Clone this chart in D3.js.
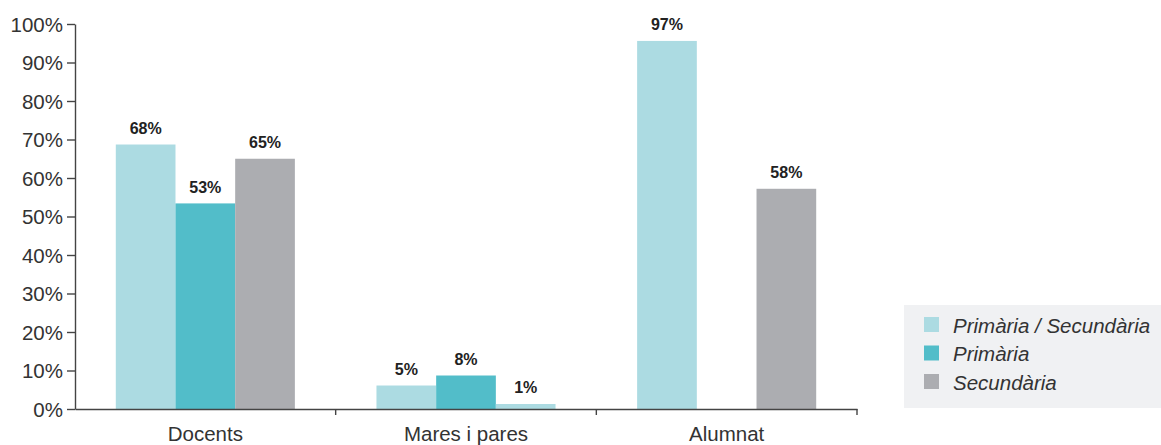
<!DOCTYPE html>
<html><head><meta charset="utf-8">
<script src="https://cdn.jsdelivr.net/npm/d3@7"></script>
<style>
html,body{margin:0;padding:0;background:#fff;}
svg{display:block;font-family:"Liberation Sans",Arial,Helvetica,sans-serif;}
</style></head>
<body>
<svg id="chart" width="1161" height="445"></svg>
<script>
const categories = ["Docents", "Mares i pares", "Alumnat"];
const seriesNames = ["Primària / Secundària", "Primària", "Secundària"];
const seriesColors = ["#acdbe2", "#52bdc9", "#acadb1"];
// bar heights (null = no bar)
const primSec   = [68.7, 6.1, 95.6];
const primaria  = [53.4, 8.7, null];
const secundaria= [65.0, 1.3, 57.2];
const primSecLabels    = ["68%", "5%", "97%"];
const primariaLabels   = ["53%", "8%", ""];
const secundariaLabels = ["65%", "1%", "58%"];
// the 1% bar in "Mares i pares" is drawn in the light colour in the original
const barColorOverride = [[null,null,null],[null,null,"#acdbe2"],[null,null,null]];
const yTicks = [0,10,20,30,40,50,60,70,80,90,100];

(function(){
const svg = d3.select("#chart");
const mLeft = 75, mRight = 857, mTop = 24, mBottom = 409;

const x = d3.scaleBand().domain(categories).range([mLeft, mRight]).paddingInner(0).paddingOuter(0);
const inner = d3.scaleBand().domain([0,1,2]).range([40.8, x.bandwidth() - 40.8]).padding(0);
const y = d3.scaleLinear().domain([0,100]).range([mBottom, mTop]);

const seriesVals = [primSec, primaria, secundaria];
const seriesLabels = [primSecLabels, primariaLabels, secundariaLabels];

const bars = [];
categories.forEach((c, ci) => {
  seriesVals.forEach((vals, si) => {
    if (vals[ci] == null) return;
    bars.push({c, si, v: vals[ci], label: seriesLabels[si][ci],
      color: barColorOverride[ci][si] || seriesColors[si]});
  });
});

svg.append("g").selectAll("rect").data(bars).join("rect")
  .attr("x", d => x(d.c) + inner(d.si))
  .attr("width", inner.bandwidth())
  .attr("y", d => y(d.v))
  .attr("height", d => y(0) - y(d.v))
  .attr("fill", d => d.color);

svg.append("g").selectAll("text").data(bars).join("text")
  .attr("x", d => x(d.c) + inner(d.si) + inner.bandwidth()/2)
  .attr("y", d => y(d.v) - 10.5)
  .attr("text-anchor", "middle")
  .attr("font-size", 16)
  .attr("font-weight", "bold")
  .attr("fill", "#222")
  .text(d => d.label);

// Y axis
const yAxis = d3.axisLeft(y).tickValues(yTicks).tickFormat(d => d + "%").tickSize(8).tickSizeOuter(0);
const gy = svg.append("g").attr("transform", `translate(${mLeft},0)`).call(yAxis);
gy.select(".domain").attr("stroke", "#444").attr("stroke-width", 1.4);
gy.selectAll(".tick line").attr("stroke", "#444").attr("stroke-width", 1.4);
gy.selectAll(".tick text").attr("font-size", 20.5).attr("fill", "#333").attr("x", -12).attr("dy", "0.35em")
  .attr("font-family", '"Liberation Sans",Arial,sans-serif');

// X axis
const xAxis = d3.axisBottom(x).tickSize(0).tickSizeOuter(0);
const gx = svg.append("g").attr("transform", `translate(0,${mBottom})`).call(xAxis);
gx.select(".domain").attr("stroke", "#444").attr("stroke-width", 1.4);
gx.selectAll(".tick text").attr("font-size", 20.5).attr("fill", "#333").attr("y", 17).attr("dy", "0.71em")
  .attr("font-family", '"Liberation Sans",Arial,sans-serif');
// category separator ticks
const seps = categories.map(c => x(c)).slice(1).concat([mRight]);
gx.append("g").selectAll("line").data(seps).join("line")
  .attr("x1", d => d).attr("x2", d => d).attr("y1", 0).attr("y2", 6)
  .attr("stroke", "#444").attr("stroke-width", 1.4);

// Legend
const lg = svg.append("g").attr("transform", "translate(904,305)");
lg.append("rect").attr("width", 257).attr("height", 103).attr("fill", "#f0f1f3");
const li = lg.selectAll("g").data(seriesNames).join("g")
  .attr("transform", (d,i) => `translate(20,${12 + i*28.5})`);
li.append("rect").attr("width", 15).attr("height", 15).attr("fill", (d,i) => seriesColors[i]);
li.append("text").attr("x", 29).attr("y", 8.5).attr("dy", "0.35em")
  .attr("font-size", 20.5).attr("font-style", "italic").attr("fill", "#333").text(d => d);
})();
</script>
</body></html>
